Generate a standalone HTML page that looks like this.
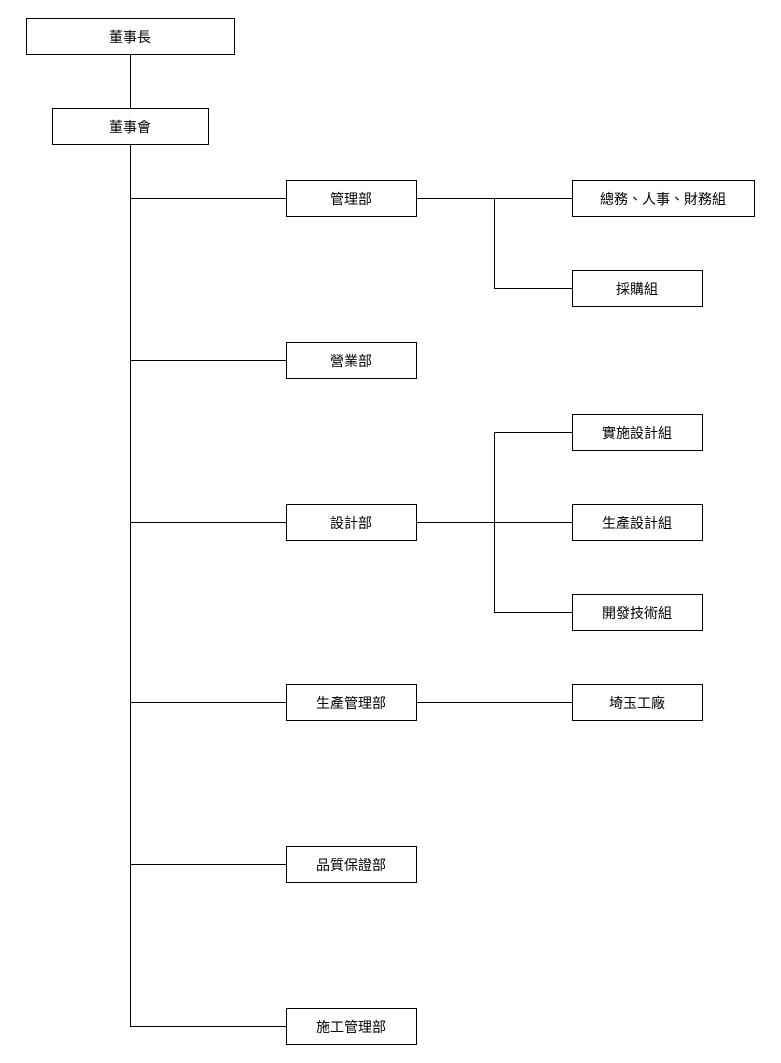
<!DOCTYPE html>
<html><head><meta charset="utf-8"><style>
html,body{margin:0;padding:0;background:#fff;}
svg{display:block;}
text{font-family:"Liberation Sans","Noto Sans CJK TC",sans-serif;font-size:14px;fill:#000;}
</style></head><body>
<svg width="781" height="1063" viewBox="0 0 781 1063" xmlns="http://www.w3.org/2000/svg" shape-rendering="crispEdges">
<g stroke="#000" stroke-width="1" fill="none">
<line x1="130.5" y1="54" x2="130.5" y2="108"/>
<line x1="130.5" y1="144" x2="130.5" y2="1026.5"/>
<line x1="130" y1="198.5" x2="287" y2="198.5"/>
<line x1="130" y1="360.5" x2="287" y2="360.5"/>
<line x1="130" y1="522.5" x2="287" y2="522.5"/>
<line x1="130" y1="702.5" x2="287" y2="702.5"/>
<line x1="130" y1="864.5" x2="287" y2="864.5"/>
<line x1="130" y1="1026.5" x2="287" y2="1026.5"/>
<line x1="416" y1="198.5" x2="572" y2="198.5"/>
<line x1="494.5" y1="198.5" x2="494.5" y2="288.5"/>
<line x1="494" y1="288.5" x2="572" y2="288.5"/>
<line x1="416" y1="522.5" x2="572" y2="522.5"/>
<line x1="494.5" y1="432.5" x2="494.5" y2="612.5"/>
<line x1="494" y1="432.5" x2="572" y2="432.5"/>
<line x1="494" y1="612.5" x2="572" y2="612.5"/>
<line x1="416" y1="702.5" x2="572" y2="702.5"/>
<rect x="26.5" y="18.5" width="208" height="36"/>
<rect x="52.5" y="108.5" width="156" height="36"/>
<rect x="286.5" y="180.5" width="130" height="36"/>
<rect x="286.5" y="342.5" width="130" height="36"/>
<rect x="286.5" y="504.5" width="130" height="36"/>
<rect x="286.5" y="684.5" width="130" height="36"/>
<rect x="286.5" y="846.5" width="130" height="36"/>
<rect x="286.5" y="1008.5" width="130" height="36"/>
<rect x="572.5" y="180.5" width="182" height="36"/>
<rect x="572.5" y="270.5" width="130" height="36"/>
<rect x="572.5" y="414.5" width="130" height="36"/>
<rect x="572.5" y="504.5" width="130" height="36"/>
<rect x="572.5" y="594.5" width="130" height="36"/>
<rect x="572.5" y="684.5" width="130" height="36"/>
</g>
<g text-anchor="middle">
<text x="130" y="42">董事長</text>
<text x="130" y="132">董事會</text>
<text x="351" y="204">管理部</text>
<text x="351" y="366">營業部</text>
<text x="351" y="528">設計部</text>
<text x="351" y="708">生產管理部</text>
<text x="351" y="870">品質保證部</text>
<text x="351" y="1032">施工管理部</text>
<text x="663" y="204">總務、人事、財務組</text>
<text x="637" y="294">採購組</text>
<text x="637" y="438">實施設計組</text>
<text x="637" y="528">生產設計組</text>
<text x="637" y="618">開發技術組</text>
<text x="637" y="708">埼玉工廠</text>
</g>
</svg>
</body></html>
